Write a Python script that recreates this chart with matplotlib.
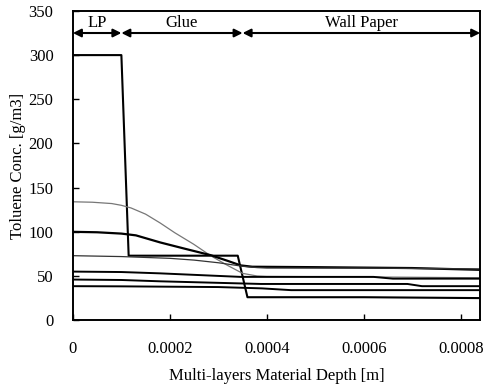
import matplotlib.pyplot as plt
from matplotlib.ticker import FuncFormatter

plt.rcParams['font.family'] = ['Liberation Serif', 'DejaVu Serif']

# depth points [m] and concentrations [g/m3]
step_x = [0, 0.0001, 0.000115, 0.00034, 0.00036, 0.0006, 0.00084]
step_y = [300, 300, 73, 73, 26, 26, 25]

gray_x = [0, 0.00004, 0.00008, 0.0001, 0.00012, 0.00015, 0.00018, 0.00021, 0.000249,
          0.000284, 0.000319, 0.00035, 0.00038, 0.0004, 0.0006, 0.00084]
gray_y = [134, 133.5, 132, 130, 127, 120, 110, 99, 86, 73, 62, 53, 50, 49.5, 49, 48]

thick_x = [0, 0.00005, 0.0001, 0.00013, 0.00018, 0.00023, 0.000284, 0.00032, 0.000346,
           0.00037, 0.0005, 0.0007, 0.00084]
thick_y = [100, 99.5, 98, 96, 88, 81, 73.6, 67, 62, 60.5, 60, 59, 57]

thin_x = [0, 0.0001, 0.0002, 0.00025, 0.0003, 0.00035, 0.00038, 0.0004, 0.0006, 0.00084]
thin_y = [73, 72, 70, 68, 65, 61, 59.5, 59, 59, 58]

mid_x = [0, 0.0001, 0.00018, 0.000346, 0.0004, 0.00062, 0.00066, 0.00084]
mid_y = [55, 54.5, 53, 49, 49, 49, 47, 47]

low_x = [0, 0.0001, 0.00018, 0.000388, 0.00069, 0.00072, 0.00084]
low_y = [46, 45.5, 44, 41, 41, 38.5, 38.5]

bot_x = [0, 0.0001, 0.0003, 0.00039, 0.00042, 0.00045, 0.00084]
bot_y = [38.5, 38.3, 37.5, 36, 35, 34, 34]

layers = ['LP', 'Glue', 'Wall Paper']
layer_edges = [0, 0.0001, 0.00035, 0.00084]

fig = plt.figure(figsize=(4.86, 3.9), dpi=100)
ax = fig.add_axes([0.150, 0.179, 0.838, 0.793])

ax.plot(step_x, step_y, color='black', lw=1.5)
ax.plot(gray_x, gray_y, color='#777777', lw=0.9)
ax.plot(thick_x, thick_y, color='black', lw=1.6)
ax.plot(thin_x, thin_y, color='#333333', lw=0.9)
ax.plot(mid_x, mid_y, color='black', lw=1.4)
ax.plot(low_x, low_y, color='black', lw=1.4)
ax.plot(bot_x, bot_y, color='black', lw=1.4)

# layer arrows along the top
for i, name in enumerate(layers):
    x0, x1 = layer_edges[i], layer_edges[i + 1]
    ax.annotate('', xy=(x1, 325), xytext=(x0, 325),
                arrowprops=dict(arrowstyle='<|-|>', color='black', lw=1.5,
                                shrinkA=0, shrinkB=0, mutation_scale=12))
    ax.text((x0 + x1) / 2, 327, name, ha='center', va='bottom', fontsize=12)

ax.set_xlim(0, 0.00084)
ax.set_ylim(0, 350)
ax.set_xticks([0, 0.0002, 0.0004, 0.0006, 0.0008])
ax.set_yticks(range(0, 351, 50))
ax.xaxis.set_major_formatter(FuncFormatter(lambda v, p: '0' if v == 0 else f'{v:.4f}'))
ax.tick_params(direction='in', length=4, width=1, labelsize=12)
ax.tick_params(axis='x', pad=15)
ax.tick_params(axis='y', pad=14)
for s in ax.spines.values():
    s.set_linewidth(1.4)

ax.set_xlabel('Multi-layers Material Depth [m]', fontsize=12, labelpad=8)
ax.set_ylabel('Toluene Conc. [g/m3]', fontsize=12, labelpad=2)

fig.savefig('out.png', dpi=100)
